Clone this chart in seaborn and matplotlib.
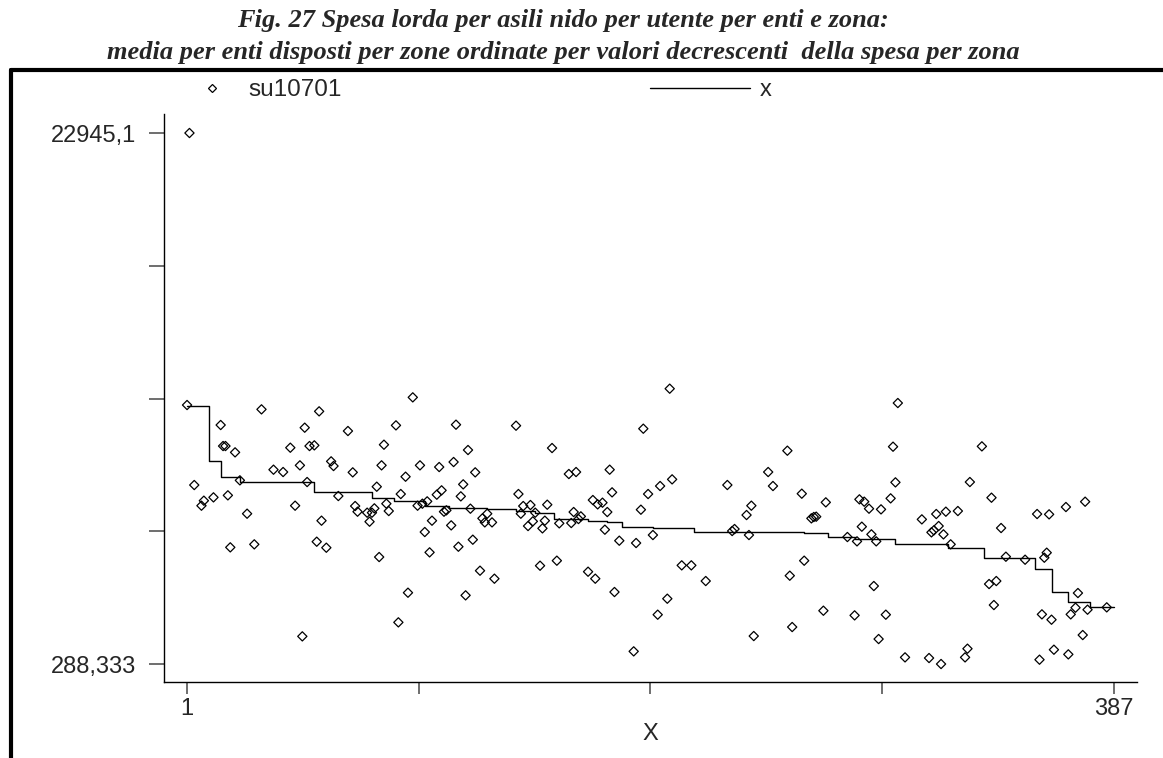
import matplotlib
matplotlib.use("Agg")
import matplotlib.pyplot as plt
from matplotlib.lines import Line2D
import seaborn as sns
import pandas as pd

# ---------------- data ----------------
title_lines = [
    "Fig. 27 Spesa lorda per asili nido per utente per enti e zona:",
    "media per enti disposti per zone ordinate per valori decrescenti  della spesa per zona",
]
series_names = ["su10701", "x"]
x_label = "X"

# scatter series su10701: entity index and gross spending per user
ent_idx = [
    2, 1, 32, 56, 15, 50, 68, 16, 17, 21, 44, 52, 54, 48, 61, 62, 37, 41, 70, 23, 51, 4, 12, 18, 8, 7,
    46, 64, 71, 72, 26, 57, 19, 29, 55, 59, 49,
    95, 88, 113, 138, 153, 83, 118, 82, 98, 106, 112, 121, 92, 80, 116, 107, 105, 90, 115, 139, 84,
    97, 99, 101, 85, 79, 76, 78, 77, 108, 109, 119, 103, 111, 124, 126, 125, 128, 100, 141, 144, 151,
    140, 146, 145, 150, 143, 149, 120, 114, 102, 81, 148, 123, 129, 93, 117, 89,
    202, 191, 160, 163, 177, 203, 198, 226, 178, 193, 170, 172, 174, 162, 176, 190, 234, 156, 161,
    164, 165, 175, 195, 181, 188, 228, 229, 155, 168, 171, 179, 207, 211, 217, 201, 197, 187,
    297, 295, 251, 243, 296, 245, 257, 267, 236, 261, 262, 263, 281, 283, 285, 290, 294, 307, 313,
    282, 286, 276, 280, 288, 235, 314, 312, 311, 258, 252, 287, 266, 279, 292, 253, 237, 289, 300,
    310, 315,
    332, 327, 336, 317, 322, 316, 340, 319, 355, 360, 367, 375, 342, 350, 359, 358, 335, 338, 337,
    372, 371, 369, 376, 384, 357, 361, 374, 326, 325, 362, 368, 356,
]
spesa = [
    22945.1, 11339, 11154, 11069, 10486, 10372, 10230, 9589, 9589, 9319, 9518, 9589, 9618, 8765, 8935,
    8736, 8580, 8480, 8466, 8125, 8053, 7925, 7399, 7485, 7257, 7044,
    7044, 7456, 7029, 6788, 6702, 6404, 5266, 5394, 5507, 5251, 1468,
    11666, 10471, 10500, 10457, 9504, 9646, 9419, 8765, 8765, 8693, 8907, 8466, 8281, 7854, 7954, 7698,
    7513, 7541, 7442, 7541, 7129,
    7044, 7129, 7228, 6816, 6930, 6745, 6745, 6361, 6788, 6845, 6916, 6404, 6204, 6503, 6702, 6332,
    6332, 5920, 7029, 7072, 7086,
    6702, 6745, 6375, 6404, 6176, 6076, 5593, 5294, 5052, 4853, 4483, 4270, 3929, 3331, 3218, 2066,
    12036, 10329, 8395, 8480, 8580, 8167, 7883, 7926, 7613, 7541, 7285, 7100, 7172, 6773, 6773, 6873,
    6645, 6290, 6304,
    6475, 6588, 6020, 5792, 5550, 5451, 5963, 6048, 4697, 4227, 3929, 3360, 4498, 4498, 3829, 3075,
    2393, 828,
    11424, 9561, 9390, 8480, 8039, 7883, 7556, 7186, 7044, 6503, 6560, 6575, 7314, 7215, 6916, 6887,
    7356, 6460, 6688,
    6148, 5820, 5707, 5522, 5522, 5792, 6176, 5991, 5906, 4697, 4057, 3616, 2563, 2364, 2393, 1866,
    1482, 1354, 572,
    544, 288.333,
    9575, 8053, 7385, 6788, 6816, 5820, 6091, 5394, 6688, 6674, 6987, 7214, 4867, 4739, 5038, 4825,
    3701, 3829, 2805,
    3317, 2691, 2407, 2606, 2706, 2407, 2179, 1525, 942, 572, 899, 700, 473,
]

# step series x: zone mean, constant from each zone start to the next
zone_start = [1, 10, 15, 23, 43, 54, 78, 87, 100, 110, 126, 138, 146, 154, 168, 176, 182, 195, 212,
              258, 268, 279, 296, 318, 333, 354, 361, 368, 377]
zone_mean = [11311, 8950, 8267, 8068, 8040, 7641, 7357, 7229, 7030, 6930, 6888, 6831, 6745, 6475,
             6404, 6333, 6148, 6076, 5934, 5878, 5707, 5622, 5394, 5223, 4797, 4342, 3346, 2919, 2706]
last_index = 387

y_ticks = [288.333, 5952.5, 11616.7, 17280.9, 22945.1]
y_ticklabels = ["288,333", "", "", "", "22945,1"]
x_ticks = [1, 97.5, 194, 290.5, 387]
x_ticklabels = ["1", "", "", "", "387"]

# ---------------- figure ----------------
sns.set_theme(style="white")
plt.rcParams["font.family"] = ["Liberation Sans", "DejaVu Sans"]

fig = plt.figure(figsize=(11.63, 7.58), dpi=100)
ax = fig.add_axes([164 / 1163, 76 / 758, 973 / 1163, 568 / 758])

scat_df = pd.DataFrame({"X": ent_idx, "val": spesa})
sns.scatterplot(data=scat_df, x="X", y="val", ax=ax, marker="D", s=22,
                facecolors="none", edgecolor="black", linewidth=0.9, zorder=3)

step_df = pd.DataFrame({"X": zone_start + [last_index], "val": zone_mean + [zone_mean[-1]]})
sns.lineplot(data=step_df, x="X", y="val", ax=ax, drawstyle="steps-post", color="black",
             linewidth=1.0, estimator=None, sort=False, zorder=2)

ax.set_xlim(-8.6, 396.6)
ax.set_ylim(-479, 23756)
ax.set_xticks(x_ticks)
ax.set_xticklabels(x_ticklabels)
ax.set_yticks(y_ticks)
ax.set_yticklabels(y_ticklabels)
ax.tick_params(axis="y", direction="out", length=11, width=1.2, color="#555555", pad=9,
               labelsize=17, left=True)
ax.tick_params(axis="x", direction="out", length=8.5, width=1.2, color="#555555", pad=3,
               labelsize=17, bottom=True)
ax.set_xlabel(x_label, fontsize=17, labelpad=2)
ax.set_ylabel("")
for side in ["top", "right"]:
    ax.spines[side].set_visible(False)
for side in ["left", "bottom"]:
    ax.spines[side].set_color("black")
    ax.spines[side].set_linewidth(1.0)
ax.grid(False)

# legends
h1 = Line2D([], [], marker="D", ls="none", mfc="none", mec="black", ms=4.5, mew=0.9)
leg1 = ax.legend([h1], [series_names[0]], loc="center left",
                 bbox_to_anchor=(200 / 1163, 1 - 90 / 758), bbox_transform=fig.transFigure,
                 frameon=False, fontsize=17.5, handlelength=1.0, handletextpad=1.0,
                 borderpad=0, borderaxespad=0)
ax.add_artist(leg1)
h2 = Line2D([], [], color="black", lw=1.0)
ax.legend([h2], [series_names[1]], loc="center left",
          bbox_to_anchor=(650 / 1163, 1 - 90 / 758), bbox_transform=fig.transFigure,
          frameon=False, fontsize=17, handlelength=4.25, handletextpad=0.4,
          borderpad=0, borderaxespad=0)

# title
for i, line in enumerate(title_lines):
    fig.text(563 / 1163, 1 - (21 + 32 * i) / 758, line, ha="center", va="center",
             family=["Liberation Serif", "DejaVu Serif"], fontweight="bold", fontstyle="italic",
             fontsize=19)

# outer frame lines
fig.add_artist(Line2D([11 / 1163, 1.0], [1 - 70 / 758, 1 - 70 / 758], transform=fig.transFigure,
                      color="black", lw=3))
fig.add_artist(Line2D([11 / 1163, 11 / 1163], [0, 1 - 70 / 758], transform=fig.transFigure,
                      color="black", lw=3))

fig.savefig("out.png", dpi=100)
